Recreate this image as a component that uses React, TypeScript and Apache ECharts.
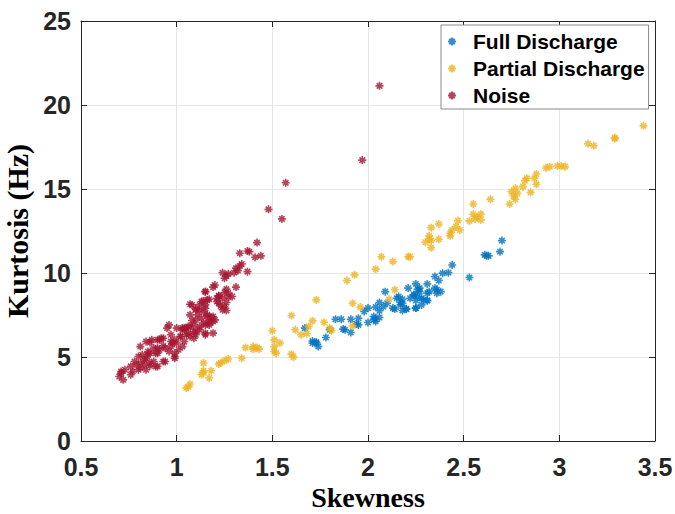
import React, { useEffect, useRef } from "react";
import * as echarts from "echarts";

const xTicks = [0.5, 1, 1.5, 2, 2.5, 3, 3.5];
const yTicks = [0, 5, 10, 15, 20, 25];
const seriesNames = ["Full Discharge", "Partial Discharge", "Noise"];
const seriesColors = ["#0072BD", "#EDB120", "#A2142F"];

const fullDischarge: [number, number][] = [
  [2.70, 11.93], [2.69, 11.27], [2.61, 11.08], [2.62, 11.03], [2.63, 11.02], [2.53, 9.73], [2.44, 10.48],
  [2.42, 10.02], [2.39, 9.99], [2.35, 9.79], [2.37, 9.55], [2.25, 9.35], [2.21, 9.10], [2.27, 9.10],
  [2.31, 9.35], [2.35, 9.10], [2.36, 9.00], [2.38, 8.89], [2.36, 8.80], [2.31, 8.80], [2.27, 8.89],
  [2.24, 8.70], [2.22, 8.50], [2.28, 8.50], [2.31, 8.36], [2.28, 8.10], [2.25, 7.91], [2.20, 7.87],
  [2.18, 7.77], [2.14, 7.85], [2.17, 8.24], [2.15, 8.50], [2.16, 8.60], [2.18, 8.44], [2.09, 8.89],
  [2.06, 8.24], [2.10, 8.20], [2.04, 7.97], [2.06, 7.75], [2.00, 7.91], [1.98, 7.71], [2.06, 7.35],
  [2.04, 7.25], [2.03, 7.41], [2.00, 7.05], [1.95, 7.31], [1.91, 7.25], [1.94, 6.97], [1.91, 6.46],
  [1.87, 6.66], [1.86, 7.25], [1.83, 7.25], [1.78, 6.16], [1.80, 6.62], [1.73, 5.89], [1.71, 5.83],
  [1.74, 5.62], [1.73, 5.83], [1.67, 6.72], [2.26, 9.04], [2.24, 8.70], [2.25, 8.36], [2.26, 8.60],
  [2.18, 8.20], [2.17, 8.10], [2.08, 8.00], [2.13, 7.91], [2.20, 7.85], [2.03, 7.25], [2.04, 7.11],
  [1.95, 6.91], [1.88, 6.62], [2.32, 8.89], [2.29, 8.40], [2.25, 7.91], [2.31, 8.36], [1.71, 5.95],
];

const partialDischarge: [number, number][] = [
  [3.44, 18.76], [3.29, 18.0], [3.29, 18.05], [3.15, 17.69], [3.18, 17.57],
  [2.93, 16.25], [2.95, 16.33], [2.99, 16.37], [3.01, 16.37], [3.03, 16.33],
  [2.88, 15.89], [2.87, 15.64], [2.88, 15.28], [2.83, 15.64], [2.82, 15.49], [2.81, 15.14], [2.85, 14.80],
  [2.75, 14.84], [2.77, 15.04], [2.78, 14.74], [2.76, 14.58], [2.77, 14.39], [2.74, 14.11],
  [2.64, 14.39], [2.55, 14.11],
  [2.55, 13.50], [2.57, 13.35], [2.59, 13.51], [2.59, 13.16], [2.56, 13.22], [2.53, 13.10], [2.47, 13.12],
  [2.37, 12.92], [2.33, 12.70], [2.46, 12.76], [2.48, 12.56], [2.44, 12.56], [2.43, 12.37], [2.43, 12.21],
  [2.32, 12.21], [2.32, 12.01], [2.33, 11.93], [2.30, 11.83], [2.33, 11.51], [2.37, 12.01],
  [2.07, 10.97], [2.21, 10.97], [2.22, 10.97], [2.13, 10.68], [2.04, 10.23], [1.93, 9.89], [1.89, 9.55],
  [1.73, 8.40], [1.92, 8.20], [1.96, 7.97], [2.14, 9.00], [2.11, 8.44],
  [1.60, 7.47], [1.71, 7.15], [1.69, 6.81], [1.77, 7.07], [1.62, 6.62], [1.65, 6.32], [1.68, 6.38],
  [1.81, 6.58], [1.80, 6.72], [1.92, 6.85],
  [1.50, 6.56], [1.51, 6.02], [1.54, 5.83], [1.51, 5.62], [1.51, 5.33], [1.52, 5.23], [1.60, 5.17], [1.61, 4.99],
  [1.36, 5.56], [1.40, 5.62], [1.40, 5.47], [1.42, 5.56], [1.43, 5.47], [1.34, 4.93],
  [1.14, 4.64], [1.22, 4.58], [1.23, 4.64], [1.25, 4.77], [1.27, 4.88],
  [1.14, 4.08], [1.14, 4.18], [1.13, 3.94], [1.18, 4.18], [1.17, 3.75],
  [1.06, 3.21], [1.07, 3.39], [1.05, 3.15],
];

const noise: [number, number][] = [
  [2.06, 21.14], [1.97, 16.72], [1.57, 15.37], [1.48, 13.79], [1.55, 13.22], [1.42, 11.81], [1.41, 10.94],
  [1.44, 11.02], [1.38, 11.27], [1.33, 11.18], [1.37, 11.31],
  [1.34, 10.54], [1.33, 10.42], [1.31, 10.29], [1.30, 10.02], [1.32, 10.14], [1.37, 10.08], [1.24, 10.02],
  [1.26, 9.83], [1.27, 9.95], [1.25, 9.69], [1.31, 9.16], [1.20, 9.29], [1.19, 9.16],
  [1.26, 9.04], [1.25, 8.84], [1.27, 8.80], [1.29, 8.60], [1.22, 8.64], [1.21, 8.50], [1.24, 8.50],
  [1.15, 8.89], [1.14, 8.34], [1.16, 8.40], [1.17, 8.44], [1.15, 8.10], [1.08, 8.10],
  [1.22, 8.20], [1.23, 8.04], [1.25, 8.00], [1.24, 7.81], [1.26, 7.77],
  [1.12, 7.81], [1.14, 7.71], [1.11, 7.51], [1.13, 7.31], [1.16, 7.45], [1.17, 7.21], [1.18, 7.37],
  [1.10, 7.21], [1.08, 7.17], [1.14, 7.02], [1.12, 6.81], [1.09, 6.91], [1.07, 6.81], [1.05, 6.72],
  [1.19, 7.11], [1.17, 6.91], [0.96, 6.91], [1.00, 6.72], [1.03, 6.72],
  [1.07, 7.51], [1.10, 7.81], [1.15, 7.90], [1.16, 7.51], [1.04, 6.72], [1.15, 6.42], [1.09, 6.52],
  [1.06, 6.42], [1.02, 6.22], [0.99, 6.02], [0.95, 6.72],
  [0.93, 6.12], [0.90, 6.02], [0.86, 5.86], [1.00, 5.83], [1.03, 5.62], [0.97, 5.62], [0.94, 5.53],
  [0.91, 5.43], [0.96, 5.33], [0.89, 5.23], [0.85, 5.13], [0.99, 5.23], [1.01, 5.43], [0.88, 4.73],
  [0.93, 4.73], [0.99, 4.93], [0.97, 5.92], [1.04, 5.92], [1.07, 6.22], [1.10, 6.32],
  [0.84, 4.93], [0.83, 4.83], [0.81, 4.64], [0.79, 4.54], [0.83, 4.54], [0.90, 4.44], [0.84, 4.24],
  [0.80, 4.24], [0.77, 4.14], [0.76, 3.94], [0.71, 4.04], [0.70, 3.84], [0.72, 3.64], [0.81, 4.34], [0.86, 4.64],
  [1.22, 8.64], [1.27, 8.56], [1.21, 8.30], [1.26, 8.24], [1.15, 8.89], [1.13, 8.30], [1.12, 8.10],
  [1.07, 8.14], [1.10, 7.85],
  [1.19, 7.41], [1.20, 7.21], [1.17, 7.02], [1.15, 6.91], [1.19, 6.42], [1.15, 6.32], [1.12, 6.62],
  [1.10, 6.52], [1.06, 6.81], [1.03, 6.62], [1.05, 6.32], [1.09, 6.12], [1.02, 6.22], [0.98, 5.83],
  [0.92, 6.12], [0.97, 6.32], [0.93, 5.67], [0.90, 5.53], [0.88, 5.53], [0.86, 5.23], [0.90, 5.23],
  [0.82, 5.13], [0.80, 5.03], [0.78, 4.73], [0.76, 4.44], [0.73, 4.24], [0.71, 4.14], [0.99, 5.03],
  [0.94, 4.73], [0.89, 4.44], [0.86, 4.48], [0.91, 6.02], [0.87, 6.02], [0.84, 5.92], [0.81, 5.62], [0.85, 5.33],
];

const ASTERISK = "path://M5,0L5,10M0,5L10,5M1.6,1.6L8.4,8.4M1.6,8.4L8.4,1.6";

export default function App() {
  const ref = useRef<HTMLDivElement>(null);
  useEffect(() => {
    if (!ref.current) return;
    const chart = echarts.init(ref.current, undefined, { renderer: "svg" });
    const axisColor = "#262626";
    const tickFont = { fontFamily: "Liberation Sans, Arial, sans-serif", fontWeight: "bold" as const, fontSize: 25, color: axisColor };
    const titleFont = { fontFamily: "Liberation Serif, Times New Roman, serif", fontWeight: "bold" as const, fontSize: 28, color: "#000" };
    const xMin = xTicks[0], xMax = xTicks[xTicks.length - 1], xInt = xTicks[1] - xTicks[0];
    const yMin = yTicks[0], yMax = yTicks[yTicks.length - 1], yInt = yTicks[1] - yTicks[0];
    const datasets = [fullDischarge, partialDischarge, noise];
    chart.setOption({
      animation: false,
      backgroundColor: "#fff",
      grid: { left: 81, right: 20, top: 21, bottom: 73, containLabel: false, outerBoundsMode: "none" },
      legend: {
        orient: "vertical",
        left: 441,
        top: 25,
        padding: [5, 4, 2, 6],
        itemWidth: 24,
        itemHeight: 8,
        itemGap: 4,
        borderColor: "#8a8a8a",
        borderWidth: 1,
        backgroundColor: "#fff",
        textStyle: { fontFamily: "Liberation Sans, Arial, sans-serif", fontWeight: "bold", fontSize: 21, color: "#000", lineHeight: 23, padding: [0, 0, 0, 4] },
        data: seriesNames,
      },
      xAxis: [
        {
          type: "value", min: xMin, max: xMax, interval: xInt,
          name: "Skewness", nameLocation: "middle", nameGap: 42, nameTextStyle: titleFont,
          axisLine: { show: true, onZero: false, lineStyle: { color: axisColor, width: 1 } },
          axisTick: { show: true, inside: true, length: 6, lineStyle: { color: axisColor } },
          axisLabel: { ...tickFont, margin: 13 },
          splitLine: { show: true, lineStyle: { color: "#e6e6e6", width: 1 } },
        },
        {
          type: "value", position: "top", min: xMin, max: xMax, interval: xInt,
          axisLine: { show: true, onZero: false, lineStyle: { color: axisColor, width: 1 } },
          axisTick: { show: true, inside: true, length: 6, lineStyle: { color: axisColor } },
          axisLabel: { show: false },
          splitLine: { show: false },
        },
      ],
      yAxis: [
        {
          type: "value", min: yMin, max: yMax, interval: yInt,
          name: "Kurtosis (Hz)", nameLocation: "middle", nameGap: 44, nameRotate: 90,
          nameTextStyle: { ...titleFont, fontSize: 30 },
          axisLine: { show: true, onZero: false, lineStyle: { color: axisColor, width: 1 } },
          axisTick: { show: true, inside: true, length: 6, lineStyle: { color: axisColor } },
          axisLabel: { ...tickFont, margin: 10 },
          splitLine: { show: true, lineStyle: { color: "#e6e6e6", width: 1 } },
        },
        {
          type: "value", position: "right", min: yMin, max: yMax, interval: yInt,
          axisLine: { show: true, onZero: false, lineStyle: { color: axisColor, width: 1 } },
          axisTick: { show: true, inside: true, length: 6, lineStyle: { color: axisColor } },
          axisLabel: { show: false },
          splitLine: { show: false },
        },
      ],
      series: seriesNames.map((name, i) => ({
        name,
        type: "scatter",
        xAxisIndex: 0,
        yAxisIndex: 0,
        symbol: ASTERISK,
        symbolSize: 8,
        data: datasets[i],
        itemStyle: { color: seriesColors[i], borderColor: seriesColors[i], borderWidth: 1.6 },
        emphasis: { disabled: true },
      })),
    });
    return () => chart.dispose();
  }, []);
  return <div ref={ref} style={{ position: "fixed", left: 0, top: 0, width: 675, height: 514 }} />;
}
